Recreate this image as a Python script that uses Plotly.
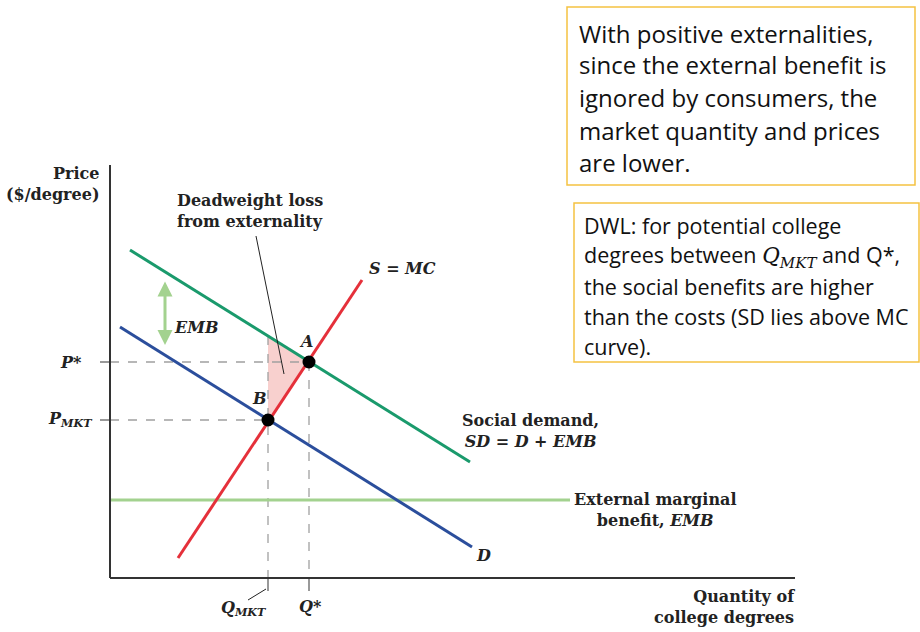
import plotly.graph_objects as go

# ---------------- data (quantity, price units) ----------------
sd_q = [2.0, 36.0]
sd_p = [32.8, 11.6]
d_q = [1.0, 36.2]
d_p = [25.1, 3.1]
mc_q = [6.8, 25.2]
mc_p = [2.0, 29.8]
emb_q = [0.0, 46.0]
emb_p = [7.8, 7.8]
eq_names = ["A", "B"]
eq_q = [19.9, 15.8]
eq_p = [21.6, 15.8]
dwl_q = [15.8, 15.8, 19.9, 15.8]
dwl_p = [24.2, 15.8, 21.6, 24.2]
x_axis_q = [0.0, 68.5]
y_axis_p = [0.0, 41.3]

box1_lines = [
    "With positive externalities,",
    "since the external benefit is",
    "ignored by consumers, the",
    "market quantity and prices",
    "are lower.",
]
box2_lines = [
    "DWL: for potential college",
    "degrees between <span style='font-family:\"DejaVu Serif\"'><i>Q</i><sub><i>MKT</i></sub></span> and Q*,",
    "the social benefits are higher",
    "than the costs (SD lies above MC",
    "curve).",
]

SERIF = "DejaVu Serif"
BOXFONT = "Open Sans"
GREEN = "#1a9a6c"
BLUE = "#2b4e9c"
RED = "#e5303a"
LGREEN = "#a3d28f"
GRAY = "#a0a0a0"

fig = go.Figure()

def line(q, p, color, width=3, dash=None):
    fig.add_trace(go.Scatter(x=q, y=p, mode="lines", hoverinfo="skip",
                             line=dict(color=color, width=width, dash=dash),
                             showlegend=False))

# DWL triangle
fig.add_trace(go.Scatter(x=dwl_q, y=dwl_p, mode="lines", fill="toself",
                         fillcolor="rgba(242,170,165,0.55)", line=dict(width=0),
                         hoverinfo="skip", showlegend=False))

# dashed guides
a_q, b_q = eq_q
a_p, b_p = eq_p
line([0, a_q], [a_p, a_p], GRAY, 1.3, "dash")
line([0, b_q], [b_p, b_p], GRAY, 1.3, "dash")
line([a_q, a_q], [a_p, 0], GRAY, 1.3, "dash")
line([b_q, b_q], [dwl_p[0], 0], GRAY, 1.3, "dash")
# tick marks
line([-1.0, 0], [a_p, a_p], "#555", 1.2)
line([-1.0, 0], [b_p, b_p], "#555", 1.2)
line([a_q, a_q], [0, -1.3], "#555", 1.2)
line([b_q, b_q], [0, -1.3], "#555", 1.2)

# curves
line(emb_q, emb_p, LGREEN, 3)
line(sd_q, sd_p, GREEN, 3)
line(d_q, d_p, BLUE, 3)
line(mc_q, mc_p, RED, 3)

# axes
line(x_axis_q, [0, 0], "#333", 2)
line([0, 0], y_axis_p, "#333", 2)

# leader lines
line([14.6, 17.4], [34.2, 20.4], "#222", 1)
line([13.8, 15.6], [-2.2, -1.1], "#222", 1)

# equilibrium points
fig.add_trace(go.Scatter(x=eq_q, y=eq_p, mode="markers", hoverinfo="skip",
                         marker=dict(color="black", size=13), showlegend=False))

# EMB double arrow
fig.add_annotation(x=5.5, y=23.3, ax=5.5, ay=29.8, xref="x", yref="y",
                   axref="x", ayref="y", text="", showarrow=True,
                   arrowhead=2, startarrowhead=2, arrowside="end+start",
                   arrowsize=1, arrowwidth=3, arrowcolor=LGREEN)

def txt(x, y, s, size=16, xanchor="center", align="center", color="#222",
        family=SERIF, yanchor="middle"):
    fig.add_annotation(x=x, y=y, xref="x", yref="y", text=s, showarrow=False,
                       xanchor=xanchor, yanchor=yanchor, align=align,
                       font=dict(family=family, size=size, color=color))

txt(-0.9, 39.4, "<b>Price<br>($/degree)</b>", 16, xanchor="right", align="right")
txt(6.5, 36.7, "<b>Deadweight loss<br>from externality</b>", 16, xanchor="left", align="left")
txt(29.2, 31.0, "<b><i>S</i> = <i>MC</i></b>", 16)
txt(8.6, 25.1, "<b><i>EMB</i></b>", 16)
txt(19.6, 23.7, "<b><i>A</i></b>", 16)
txt(14.9, 18.0, "<b><i>B</i></b>", 16)
txt(-2.6, 21.6, "<b><i>P*</i></b>", 16, xanchor="right")
txt(-1.6, 15.9, "<b><i>P</i><sub><i>MKT</i></sub></b>", 16, xanchor="right")
txt(42.0, 14.7, "<b>Social demand,<br><i>SD</i> = <i>D</i> + <i>EMB</i></b>", 16)
txt(54.5, 6.8, "<b>External marginal<br>benefit, <i>EMB</i></b>", 16)
txt(37.3, 2.3, "<b><i>D</i></b>", 16)
txt(13.3, -3.0, "<b><i>Q</i><sub><i>MKT</i></sub></b>", 16)
txt(20.0, -2.8, "<b><i>Q*</i></b>", 16)
txt(68.7, -2.9, "<b>Quantity of<br>college degrees</b>", 16, xanchor="right", align="right")

# text boxes
fig.add_shape(type="rect", x0=45.7, x1=80.5, y0=39.3, y1=57.1, xref="x", yref="y",
              line=dict(color="#f5c242", width=1.5), fillcolor="white", layer="below")
fig.add_shape(type="rect", x0=46.4, x1=80.9, y0=21.6, y1=37.5, xref="x", yref="y",
              line=dict(color="#f5c242", width=1.5), fillcolor="white", layer="below")

box1_y = [54.5, 51.4, 48.1, 44.8, 41.6]
for s, y in zip(box1_lines, box1_y):
    txt(46.7, y, s, 24, xanchor="left", align="left", color="#111", family=BOXFONT)
box2_y = [35.3, 32.2, 29.2, 26.2, 23.2]
for s, y in zip(box2_lines, box2_y):
    txt(47.2, y, s, 21.5, xanchor="left", align="left", color="#111", family=BOXFONT)

fig.update_layout(
    width=920, height=632,
    margin=dict(l=0, r=0, t=0, b=0),
    paper_bgcolor="white", plot_bgcolor="white",
    xaxis=dict(range=[-11.0, 81.0], visible=False, fixedrange=True),
    yaxis=dict(range=[-5.4, 57.8], visible=False, fixedrange=True),
)

fig.write_html("out.html", config={"displayModeBar": False},
               post_script="document.body.style.margin='0';document.body.style.overflow='hidden';")
